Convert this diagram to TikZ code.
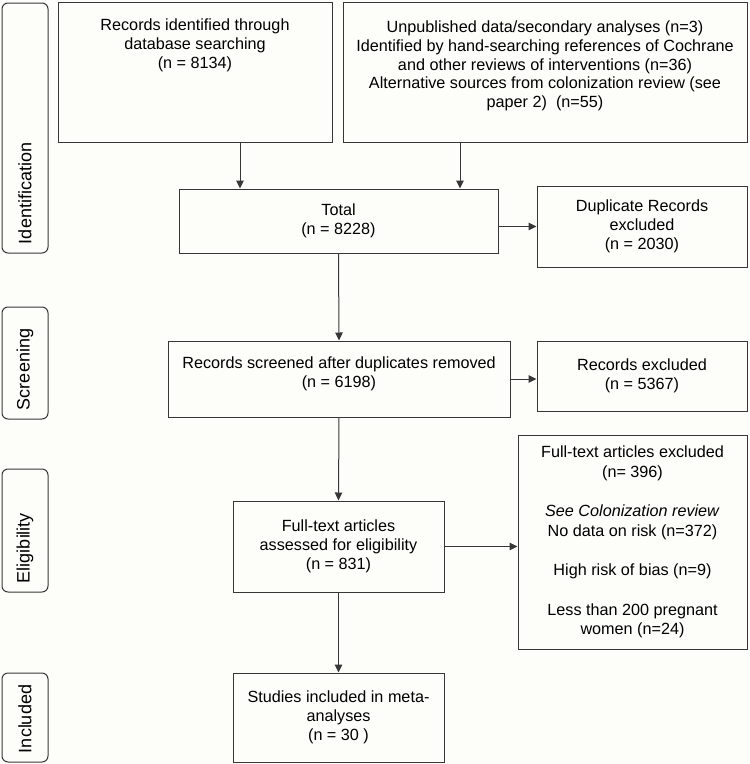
\documentclass[tikz,border=0pt]{standalone}
\usepackage{fontspec}
\setmainfont{Liberation Sans}
\usetikzlibrary{arrows.meta}
\definecolor{linegray}{RGB}{55,55,55}
\definecolor{paper}{RGB}{253,253,250}

\begin{document}
\begin{tikzpicture}[x=1pt,y=-1pt,
  txt/.style={inner sep=0pt, align=center, font=\fontsize{16.2}{18.8}\selectfont},
  box/.style={txt, draw=linegray, line width=1pt, rectangle},
  side/.style={draw=linegray, line width=1pt, rounded corners=6pt, rotate=90,
    minimum height=46pt, inner xsep=9pt, inner ysep=0pt, text width=#1, align=left,
    font=\fontsize{18}{20}\selectfont},
  arr/.style={draw=linegray, line width=1pt, -{Triangle[length=8pt,width=7.5pt]}}]
\fill [paper] (0,0) rectangle (750,764);
\useasboundingbox (0,0) rectangle (750,764);
\node [side=232pt] (idlab) at (25,128) {Identification};
\node [side=94pt] (scrlab) at (25,363) {Screening};
\node [side=105pt] (eliglab) at (25,530.5) {Eligibility};
\node [side=71pt] (inclab) at (25,717.5) {Included};
\node [box, minimum width=274pt, minimum height=140pt] (db) at (195,72) {};
\node [txt, anchor=north] (dbtext) at ([yshift=-17pt]db.north) {Records identified through\\database searching\\(n = 8134)};
\node [box, minimum width=404pt, minimum height=140pt] (other) at (545,72) {};
\node [txt, anchor=north] (othertext) at ([yshift=-19pt]other.north) {Unpublished data/secondary analyses (n=3)\\Identified by hand-searching references of Cochrane\\and other reviews of interventions (n=36)\\Alternative sources from colonization review (see\\paper 2)~~(n=55)};
\node [box, minimum width=319pt, minimum height=64pt] (total) at (338.5,221) {Total\\(n = 8228)};
\node [box, minimum width=210pt, minimum height=81pt] (dup) at (642,226.5) {Duplicate Records\\excluded\\(n = 2030)};
\node [box, minimum width=342pt, minimum height=76pt] (scr) at (339,379) {};
\node [txt] (scrtext) at (339,374) {Records screened after duplicates removed\\(n = 6198)};
\node [box, minimum width=210pt, minimum height=70pt] (rex) at (642,376) {Records excluded\\(n = 5367)};
\node [box, minimum width=211pt, minimum height=91pt] (ft) at (338.5,546.5) {Full-text articles\\assessed for eligibility\\(n = 831)};
\node [box, minimum width=229pt, minimum height=214pt, font=\fontsize{16.2}{19.7}\selectfont] (fex) at (632.5,542) {Full-text articles excluded\\(n= 396)\\[19.7pt]\textit{See Colonization review}\\No data on risk (n=372)\\[19.7pt]High risk of bias (n=9)\\[19.7pt]Less than 200 pregnant\\women (n=24)};
\node [box, minimum width=211pt, minimum height=89pt] (inc) at (338.5,717.5) {Studies included in meta-\\analyses\\(n = 30 )};
\draw [arr] ([xshift=45pt]db.south) -- ([xshift=45pt]db.south |- total.north);
\draw [arr] ([xshift=-85pt]other.south) -- ([xshift=-85pt]other.south |- total.north);
\draw [arr] (total.east |- dup.west) -- (dup.west);
\draw [arr] (total.south) -- (scr.north);
\draw [arr] (scr.east) -- (scr.east -| rex.west);
\draw [arr] (scr.south) -- (ft.north);
\draw [arr] (ft.east) -- (ft.east -| fex.west);
\draw [arr] (ft.south) -- (inc.north);
\end{tikzpicture}
\end{document}
